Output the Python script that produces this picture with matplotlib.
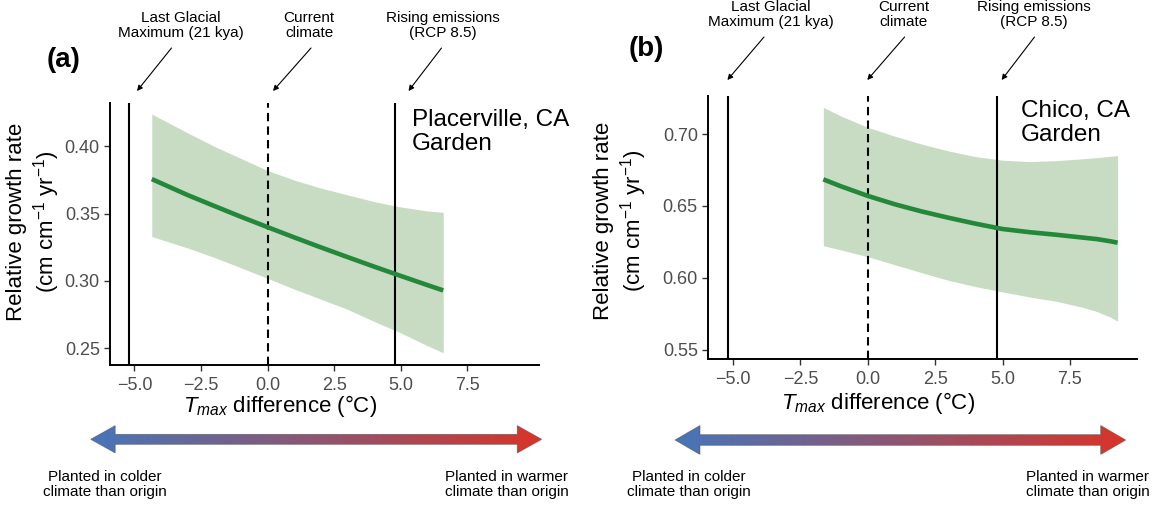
import numpy as np
import matplotlib
matplotlib.use("Agg")
import matplotlib.pyplot as plt
from matplotlib.patches import Polygon
from matplotlib.colors import LinearSegmentedColormap
from matplotlib.ticker import FixedLocator, FuncFormatter

plt.rcParams['font.family'] = ['Liberation Sans', 'DejaVu Sans']
plt.rcParams['mathtext.fontset'] = 'custom'
plt.rcParams['mathtext.rm'] = 'Liberation Sans'
plt.rcParams['mathtext.it'] = 'Liberation Sans:italic'
plt.rcParams['mathtext.bf'] = 'Liberation Sans:bold'

# ---- Placerville, CA garden: fitted relative growth rate and 95% band ----
tmax_a = [-4.35, -3.0, -2.0, -1.0, 0.0, 1.0, 2.0, 3.0, 4.0, 5.0, 6.0, 6.6]
rgr_a = [0.3757, 0.3638, 0.3557, 0.3477, 0.340, 0.3324, 0.3250, 0.3178,
         0.3107, 0.3038, 0.2970, 0.2930]
lo_a = [0.333, 0.3245, 0.3175, 0.3098, 0.302, 0.294, 0.2865, 0.279,
        0.270, 0.2615, 0.252, 0.2467]
hi_a = [0.424, 0.410, 0.400, 0.391, 0.382, 0.375, 0.369, 0.364,
        0.359, 0.355, 0.352, 0.351]

# ---- Chico, CA garden ----
tmax_b = [-1.65, -1.0, 0.0, 1.0, 2.0, 3.0, 4.0, 5.0, 6.0, 7.0, 8.0, 8.5,
          9.0, 9.27]
rgr_b = [0.6685, 0.6637, 0.657, 0.6512, 0.6462, 0.6418, 0.6377, 0.6340,
         0.6318, 0.6300, 0.6280, 0.6270, 0.6255, 0.6245]
lo_b = [0.6224, 0.6195, 0.6148, 0.6092, 0.6037, 0.5983, 0.5940, 0.5903,
        0.5868, 0.5838, 0.5795, 0.5767, 0.5728, 0.5700]
hi_b = [0.7185, 0.7125, 0.7046, 0.6985, 0.6930, 0.6882, 0.6843, 0.6818,
        0.6808, 0.6815, 0.6828, 0.6836, 0.6845, 0.6850]

# Climate scenarios (Tmax difference, degC)
scenario_tmax = [-5.2, 0.0, 4.8]
scenario_style = ['-', (0, (4, 2.5)), '-']
scenario_labels = ["Last Glacial\nMaximum (21 kya)", "Current\nclimate",
                   "Rising emissions\n(RCP 8.5)"]

xticks = [-5.0, -2.5, 0.0, 2.5, 5.0, 7.5]
yticks_a = [0.25, 0.30, 0.35, 0.40]
yticks_b = [0.55, 0.60, 0.65, 0.70]
garden_a = "Placerville, CA\nGarden"
garden_b = "Chico, CA\nGarden"
panel_tags = ["(a)", "(b)"]

LINE_GREEN = '#23883A'
BAND_GREEN = '#C7DCC2'
W, H = 1164, 505

fig = plt.figure(figsize=(W / 100, H / 100), dpi=100)


def fig_rect(left, top, right, bottom):
    return [left / W, (H - bottom) / H, (right - left) / W, (bottom - top) / H]


def fmt(v, nd=1):
    return f"{v:.{nd}f}".replace('-', '\u2212')


def draw_panel(rect, x, y, lo, hi, xlim, ylim, yticks):
    ax = fig.add_axes(rect)
    ax.fill_between(x, lo, hi, color=BAND_GREEN, lw=0, zorder=1)
    ax.plot(x, y, color=LINE_GREEN, lw=3.3, solid_capstyle='butt', zorder=3)
    for xv, ls in zip(scenario_tmax, scenario_style):
        ax.axvline(xv, color='black', lw=1.5, linestyle=ls, zorder=2)
    ax.set_xlim(*xlim)
    ax.set_ylim(*ylim)
    ax.xaxis.set_major_locator(FixedLocator(xticks))
    ax.xaxis.set_major_formatter(FuncFormatter(lambda v, p: fmt(v, 1)))
    ax.yaxis.set_major_locator(FixedLocator(yticks))
    ax.yaxis.set_major_formatter(FuncFormatter(lambda v, p: fmt(v, 2)))
    for s in ['top', 'right']:
        ax.spines[s].set_visible(False)
    for s in ['left', 'bottom']:
        ax.spines[s].set_linewidth(1.4)
    ax.tick_params(axis='both', length=4.3, width=1.0, color='#333333',
                   labelcolor='#4D4D4D', labelsize=13)
    ax.tick_params(axis='x', pad=4)
    ax.tick_params(axis='y', pad=3)
    ax.patch.set_alpha(0)
    return ax


ax_a = draw_panel(fig_rect(110, 103, 539, 365), tmax_a, rgr_a, lo_a, hi_a,
                  (-5.92, 10.2), (0.2376, 0.4322), yticks_a)
ax_b = draw_panel(fig_rect(708, 96, 1137, 359.3), tmax_b, rgr_b, lo_b, hi_b,
                  (-5.93, 9.99), (0.5435, 0.7264), yticks_b)

# Overlay in pixel units (origin top-left) for titles, callouts and arrows
ov = fig.add_axes([0, 0, 1, 1], zorder=5)
ov.set_xlim(0, W)
ov.set_ylim(H, 0)
ov.axis('off')
ov.patch.set_alpha(0)

ylab = "Relative growth rate\n(cm cm$^{-1}$ yr$^{-1}$)"
xlab = r"$T_{max}$ difference (°C)"

panels = [
    dict(tag=(64, 60), ylab=(34, 222), xlab=(280, 406), garden=(412, 132),
         gtext=garden_a, label_y=25.5,
         label_x=[181, 309, 442.6],
         tails=[(171.5, 48), (311, 48), (441.5, 48)],
         tips=[(137, 91), (273, 91), (408.5, 91)]),
    dict(tag=(646, 49), ylab=(621, 221), xlab=(877.6, 403), garden=(1021, 123),
         gtext=garden_b, label_y=14.7,
         label_x=[771, 903.7, 1034.3],
         tails=[(764, 37), (904.6, 37), (1034.5, 37)],
         tips=[(727.4, 80), (867.3, 80), (1001.6, 80)]),
]

for i, p in enumerate(panels):
    ov.text(*p['tag'], panel_tags[i], fontsize=20, fontweight='bold',
            ha='center', va='center')
    ov.text(*p['ylab'], ylab, rotation=90, fontsize=16, ha='center',
            va='center', linespacing=1.2, multialignment='center')
    ov.text(*p['xlab'], xlab, fontsize=16, ha='center', va='center')
    ov.text(*p['garden'], p['gtext'], fontsize=17.5, ha='left', va='center',
            linespacing=1.15)
    for lx, lab, tail, tip in zip(p['label_x'], scenario_labels,
                                  p['tails'], p['tips']):
        ov.text(lx, p['label_y'], lab, fontsize=11, ha='center', va='center',
                linespacing=1.05, multialignment='center')
        ov.annotate('', xy=tip, xytext=tail,
                    arrowprops=dict(arrowstyle='-|>', lw=0.8, color='black',
                                    mutation_scale=8, shrinkA=0, shrinkB=0))

# Colder-to-warmer gradient arrows
grad_cmap = LinearSegmentedColormap.from_list('coldwarm', ['#4676BA', '#DA3328'])


def gradient_arrow(xl, xr, yc, head_len, head_half, shaft_half):
    verts = [(xl, yc), (xl + head_len, yc - head_half),
             (xl + head_len, yc - shaft_half), (xr - head_len, yc - shaft_half),
             (xr - head_len, yc - head_half), (xr, yc),
             (xr - head_len, yc + head_half), (xr - head_len, yc + shaft_half),
             (xl + head_len, yc + shaft_half), (xl + head_len, yc + head_half)]
    poly = Polygon(verts, closed=True, facecolor='none', edgecolor='#555555',
                   lw=0.5, alpha=0.7, zorder=3)
    ov.add_patch(poly)
    im = ov.imshow(np.linspace(0, 1, 256)[None, :], cmap=grad_cmap,
                   extent=(xl, xr, yc + head_half, yc - head_half),
                   aspect='auto', zorder=2, interpolation='bilinear')
    im.set_clip_path(poly)


gradient_arrow(90.7, 541.7, 439.3, 24.5, 13.7, 5.0)
gradient_arrow(675, 1125.7, 440, 25, 14.5, 5.3)
ov.set_xlim(0, W)
ov.set_ylim(H, 0)

cold_text = "Planted in colder\nclimate than origin"
warm_text = "Planted in warmer\nclimate than origin"
for x, t in [(105, cold_text), (506.5, warm_text),
             (688.4, cold_text), (1087.8, warm_text)]:
    ov.text(x, 484.5, t, fontsize=11, ha='center', va='center',
            linespacing=1.05, multialignment='center')

fig.savefig('out.png', dpi=100)
